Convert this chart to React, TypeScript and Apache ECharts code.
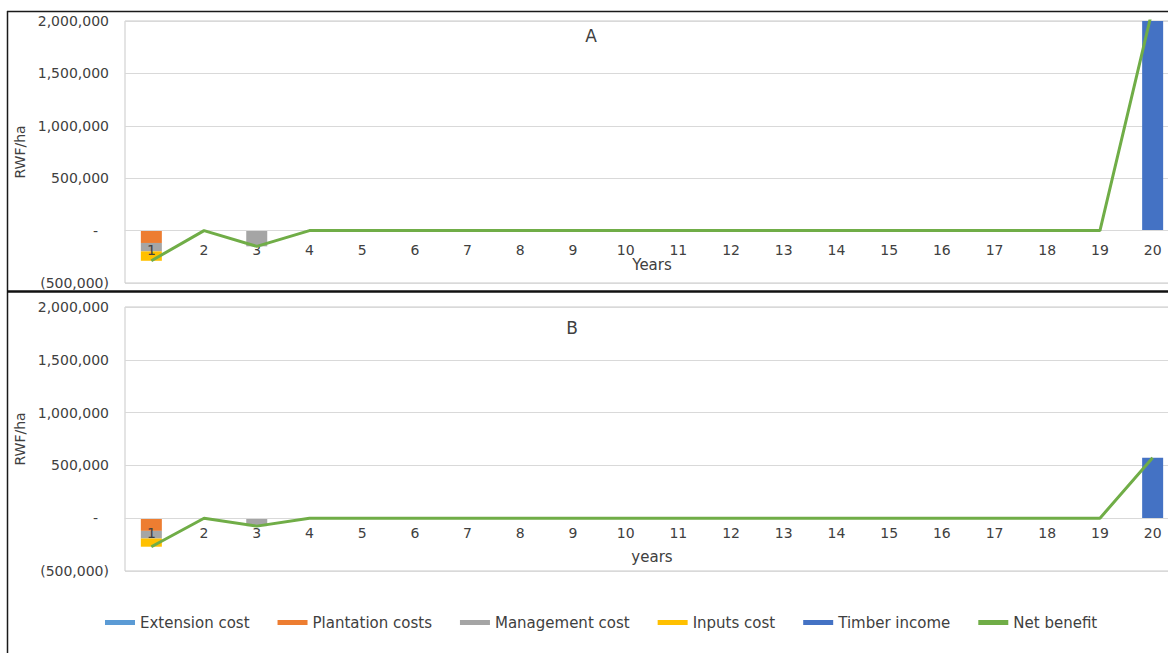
import React, { useEffect, useRef } from "react";
import * as echarts from "echarts";

const years = ["1", "2", "3", "4", "5", "6", "7", "8", "9", "10", "11", "12", "13", "14", "15", "16", "17", "18", "19", "20"];

const seriesNames = ["Extension cost", "Plantation costs", "Management cost", "Inputs cost", "Timber income", "Net benefit"];
const seriesColors = ["#5B9BD5", "#ED7D31", "#A5A5A5", "#FFC000", "#4472C4", "#70AD47"];

// Panel A
const extensionA = [-3000, 0, 0, 0, 0, 0, 0, 0, 0, 0, 0, 0, 0, 0, 0, 0, 0, 0, 0, 0];
const plantationA = [-115000, 0, 0, 0, 0, 0, 0, 0, 0, 0, 0, 0, 0, 0, 0, 0, 0, 0, 0, 0];
const managementA = [-80000, 0, -150000, 0, 0, 0, 0, 0, 0, 0, 0, 0, 0, 0, 0, 0, 0, 0, 0, 0];
const inputsA = [-90000, 0, 0, 0, 0, 0, 0, 0, 0, 0, 0, 0, 0, 0, 0, 0, 0, 0, 0, 0];
const timberA = [0, 0, 0, 0, 0, 0, 0, 0, 0, 0, 0, 0, 0, 0, 0, 0, 0, 0, 0, 2120000];
const netA = [-288000, 0, -150000, 0, 0, 0, 0, 0, 0, 0, 0, 0, 0, 0, 0, 0, 0, 0, 0, 2120000];

// Panel B
const extensionB = [-3000, 0, 0, 0, 0, 0, 0, 0, 0, 0, 0, 0, 0, 0, 0, 0, 0, 0, 0, 0];
const plantationB = [-117000, 0, 0, 0, 0, 0, 0, 0, 0, 0, 0, 0, 0, 0, 0, 0, 0, 0, 0, 0];
const managementB = [-72000, 0, -75000, 0, 0, 0, 0, 0, 0, 0, 0, 0, 0, 0, 0, 0, 0, 0, 0, 0];
const inputsB = [-78000, 0, 0, 0, 0, 0, 0, 0, 0, 0, 0, 0, 0, 0, 0, 0, 0, 0, 0, 0];
const timberB = [0, 0, 0, 0, 0, 0, 0, 0, 0, 0, 0, 0, 0, 0, 0, 0, 0, 0, 0, 572000];
const netB = [-270000, 0, -75000, 0, 0, 0, 0, 0, 0, 0, 0, 0, 0, 0, 0, 0, 0, 0, 0, 572000];

const yMin = -500000;
const yMax = 2000000;
const yStep = 500000;

const FONT = "DejaVu Sans";
const TEXT = "#404040";

function fmt(v: number): string {
  if (v === 0) return "{d|-}";
  const s = Math.abs(v).toLocaleString("en-US");
  return v < 0 ? `(${s})` : s;
}

const GRIDS = [
  { top: 21, height: 262 },
  { top: 307, height: 264 },
];

export default function App() {
  const ref = useRef<HTMLDivElement>(null);
  useEffect(() => {
    if (!ref.current) return;
    const chart = echarts.init(ref.current, undefined, { renderer: "svg" });
    const panels = [
      { ext: extensionA, pla: plantationA, man: managementA, inp: inputsA, tim: timberA, net: netA },
      { ext: extensionB, pla: plantationB, man: managementB, inp: inputsB, tim: timberB, net: netB },
    ];
    const series: any[] = [];
    panels.forEach((p, i) => {
      const bars = [p.ext, p.pla, p.man, p.inp, p.tim];
      bars.forEach((d, k) => {
        series.push({
          type: "bar",
          name: seriesNames[k],
          xAxisIndex: i,
          yAxisIndex: i,
          stack: "s" + i,
          data: d,
          barWidth: 21,
          itemStyle: { color: seriesColors[k] },
        });
      });
      series.push({
        type: "line",
        name: seriesNames[5],
        xAxisIndex: i,
        yAxisIndex: i,
        data: p.net,
        symbol: "none",
        z: 12,
        lineStyle: { color: seriesColors[5], width: 3 },
        itemStyle: { color: seriesColors[5] },
      });
    });

    // distance of the zero line above the grid bottom
    const zeroOffset = (g: { height: number }) => (g.height * (0 - yMin)) / (yMax - yMin);

    const option: any = {
      animation: false,
      textStyle: { fontFamily: FONT },
      color: seriesColors,
      grid: GRIDS.map((g) => ({
        left: 125,
        top: g.top,
        width: 1054,
        height: g.height,
        show: true,
        borderColor: "#C9C9C9",
        borderWidth: 1,
        containLabel: false,
        outerBoundsMode: "none",
      })),
      xAxis: [0, 1].map((i) => ({
        type: "category",
        gridIndex: i,
        data: years,
        position: "bottom",
        offset: -zeroOffset(GRIDS[i]),
        z: 10,
        axisTick: { show: false },
        axisLine: { onZero: false, lineStyle: { color: "#D9D9D9" } },
        axisLabel: { color: TEXT, fontSize: 14, fontFamily: FONT, margin: i === 0 ? 12 : 8 },
        name: i === 0 ? "Years" : "years",
        nameLocation: "middle",
        nameGap: i === 0 ? 27 : 31,
        nameTextStyle: { color: TEXT, fontSize: 15, fontFamily: FONT },
      })),
      yAxis: [0, 1].map((i) => ({
        type: "value",
        gridIndex: i,
        min: yMin,
        max: yMax,
        interval: yStep,
        axisLine: { show: false },
        axisTick: { show: false },
        splitLine: { lineStyle: { color: "#D9D9D9" } },
        axisLabel: {
          color: TEXT,
          fontSize: 14,
          fontFamily: FONT,
          margin: 16,
          formatter: fmt,
          rich: { d: { color: TEXT, fontSize: 14, fontFamily: FONT, padding: [0, 11, 0, 0] } },
        },
        name: "RWF/ha",
        nameLocation: "middle",
        nameRotate: 90,
        nameGap: 98,
        nameTextStyle: { color: TEXT, fontSize: 14, fontFamily: FONT },
      })),
      legend: {
        left: 100,
        top: 610,
        itemWidth: 30,
        itemHeight: 5,
        itemGap: 28,
        textStyle: { color: TEXT, fontSize: 15, fontFamily: FONT },
        data: seriesNames.map((n) => ({ name: n, icon: "rect" })),
      },
      graphic: [
        { type: "line", shape: { x1: 7, y1: 11.5, x2: 1168, y2: 11.5 }, style: { stroke: "#1a1a1a", lineWidth: 1.5 } },
        { type: "line", shape: { x1: 7.5, y1: 11, x2: 7.5, y2: 653 }, style: { stroke: "#1a1a1a", lineWidth: 1.5 } },
        { type: "line", shape: { x1: 7, y1: 291.5, x2: 1168, y2: 291.5 }, style: { stroke: "#111", lineWidth: 2.5 } },
        { type: "text", x: 591, y: 36, style: { text: "A", fill: TEXT, font: `17px '${FONT}'`, textAlign: "center", textVerticalAlign: "middle" } },
        { type: "text", x: 572, y: 328, style: { text: "B", fill: TEXT, font: `17px '${FONT}'`, textAlign: "center", textVerticalAlign: "middle" } },
      ],
      series,
    };
    chart.setOption(option);
    return () => chart.dispose();
  }, []);
  return <div ref={ref} style={{ position: "fixed", left: 0, top: 0, width: 1168, height: 653, background: "#fff" }} />;
}
